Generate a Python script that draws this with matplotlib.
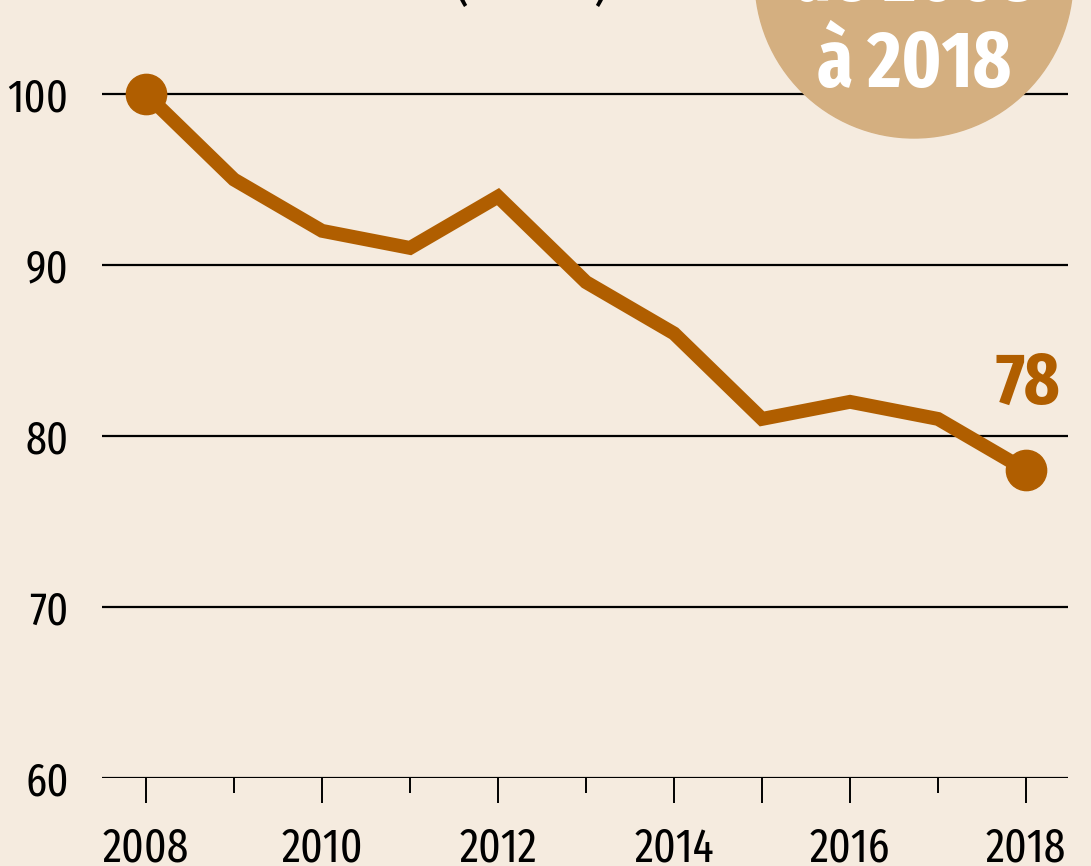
import matplotlib.pyplot as plt
from matplotlib.patches import Ellipse
from matplotlib.ticker import FixedLocator

years = [2008, 2009, 2010, 2011, 2012, 2013, 2014, 2015, 2016, 2017, 2018]
values = [100, 95, 92, 91, 94, 89, 86, 81, 82, 81, 78]
major_years = [2008, 2010, 2012, 2014, 2015, 2016, 2018]
minor_years = [2009, 2011, 2013, 2017]
label_years = [2008, 2010, 2012, 2014, 2016, 2018]
y_ticks = [60, 70, 80, 90, 100]

bg = '#F5EBDF'
brown = '#B05E00'
tan = '#D4AF80'
font = ['Fira Sans Extra Condensed', 'DejaVu Sans']

W, H = 1091, 866
fig = plt.figure(figsize=(W / 100, H / 100), dpi=100, facecolor=bg)
ax = fig.add_axes([102 / W, 88 / H, 966 / W, 778 / H], facecolor=bg)

ax.set_xlim(2007.5, 2018.477)
ax.set_ylim(60, 105.5)

for v in y_ticks:
    ax.axhline(v, color='black', lw=1.6, zorder=1)

ax.plot(years, values, color=brown, lw=10, solid_joinstyle='miter', zorder=3)
ax.plot([years[0], years[-1]], [values[0], values[-1]], 'o', color=brown,
        ms=29, zorder=4, clip_on=False)
ax.text(years[-1] + 0.02, values[-1] + 3.9, str(values[-1]), color=brown,
        fontsize=53, fontweight='bold', family=font, ha='center', va='baseline')

for s in ax.spines.values():
    s.set_visible(False)

ax.xaxis.set_major_locator(FixedLocator(major_years))
ax.xaxis.set_minor_locator(FixedLocator(minor_years))
ax.set_xticklabels([str(y) if y in label_years else '' for y in major_years])
ax.tick_params(axis='x', which='major', length=18, width=1.4, color='black',
               pad=16, labelsize=34)
ax.tick_params(axis='x', which='minor', length=11, width=1.4, color='black')
ax.set_yticks(y_ticks)
ax.tick_params(axis='y', length=0, pad=24, labelsize=33)
for lab in ax.get_xticklabels() + ax.get_yticklabels():
    lab.set_family(font)
    lab.set_fontweight('normal')

# badge circle, cut at the top of the image
r = 159
fig.patches.append(Ellipse((914 / W, (H + 21) / H), 2 * r / W, 2 * r / H,
                           transform=fig.transFigure, color=tan, zorder=0))
fig.text(914 / W, (H - 87) / H, 'à 2018', color='white', fontsize=57,
         fontweight='bold', family=font, ha='center', va='baseline', zorder=5)
fig.text(914 / W, (H - 1) / H, 'de 2008', color='white', fontsize=57,
         fontweight='bold', family=font, ha='center', va='baseline', zorder=5)
fig.text(532 / W, (H + 1) / H, '(indice)', color='black', fontsize=40,
         family=font, ha='center', va='baseline')

fig.savefig('out.png', dpi=100, facecolor=bg)
